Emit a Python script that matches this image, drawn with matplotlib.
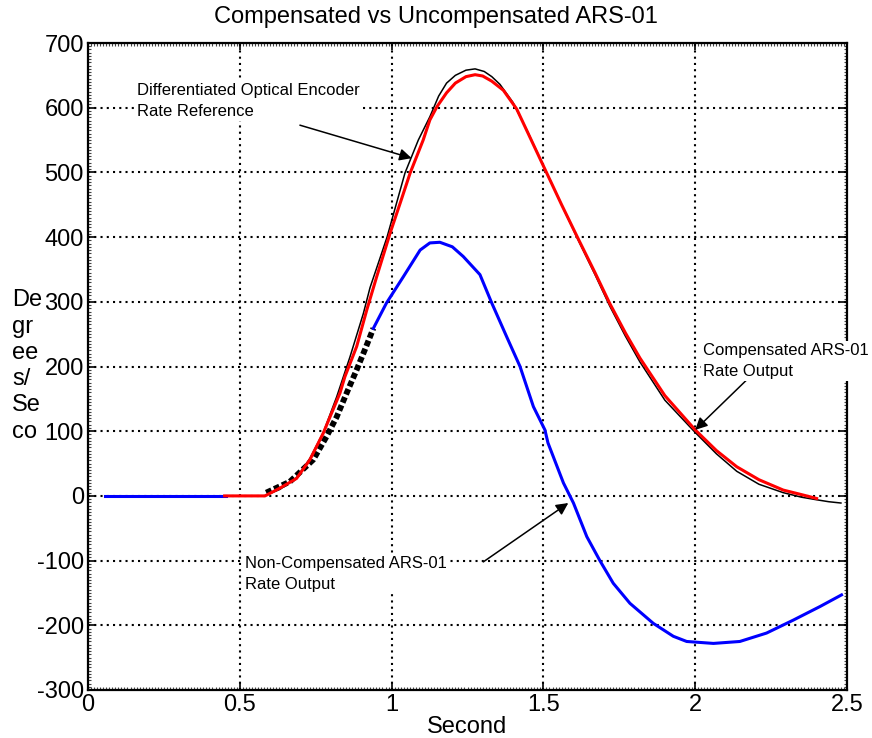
import matplotlib
matplotlib.use("Agg")
import matplotlib.pyplot as plt
from matplotlib.ticker import MultipleLocator

plt.rcParams['font.family'] = ['Liberation Sans', 'DejaVu Sans']
plt.rcParams['axes.unicode_minus'] = False

# ---- data ----
ref_x = [0.58, 0.632, 0.687, 0.731, 0.775, 0.819, 0.863, 0.907, 0.929, 0.96, 0.985,
         1.044, 1.088, 1.126, 1.155, 1.181, 1.21, 1.245, 1.275, 1.305, 1.33, 1.357,
         1.40, 1.445, 1.511, 1.56, 1.615, 1.67, 1.719, 1.77, 1.818, 1.9, 2.0, 2.07,
         2.137, 2.21, 2.29, 2.35, 2.40, 2.44, 2.48]
ref_y = [0, 10, 28, 58, 98, 153, 215, 282, 322, 365, 400,
         499, 550, 586, 618, 638, 650, 658, 660, 656, 648, 636,
         608, 566, 499, 450, 395, 342, 293, 247, 207, 148, 98, 65,
         38, 18, 5, -2, -6, -9, -11]

comp_x = [0.45, 0.583, 0.632, 0.687, 0.731, 0.775, 0.797, 0.830, 0.846, 0.885, 0.918,
          0.951, 0.978, 0.995, 1.03, 1.061, 1.104, 1.126, 1.15, 1.181, 1.21, 1.245,
          1.275, 1.30, 1.33, 1.368, 1.412, 1.45, 1.511, 1.56, 1.615, 1.67, 1.719,
          1.77, 1.818, 1.9, 2.0, 2.07, 2.137, 2.21, 2.29, 2.35, 2.40]
comp_y = [0, 0, 12, 27, 56, 97, 122, 159, 184, 231, 287,
          339, 380, 406, 455, 499, 550, 581, 602, 623, 638, 648,
          651, 649, 641, 627, 598, 560, 499, 450, 397, 345, 297,
          252, 213, 155, 102, 70, 45, 25, 9, 2, -4]

noncomp_flat_x = [0.056, 0.453]
noncomp_flat_y = [0, 0]

noncomp_mid_x = [0.587, 0.665, 0.742, 0.786, 0.819, 0.852, 0.885, 0.912, 0.94]
noncomp_mid_y = [5, 22, 56, 92, 122, 159, 195, 226, 259]

noncomp_x = [0.94, 0.983, 1.039, 1.094, 1.126, 1.159, 1.20, 1.236, 1.291, 1.33, 1.379,
             1.423, 1.467, 1.505, 1.515, 1.566, 1.599, 1.643, 1.686, 1.73, 1.785,
             1.862, 1.928, 1.972, 2.06, 2.147, 2.235, 2.323, 2.411, 2.482]
noncomp_y = [259, 298, 339, 380, 391, 392, 385, 370, 342, 298, 246,
             200, 138, 102, 82, 20, -11, -63, -100, -135, -166,
             -197, -217, -225, -228, -225, -212, -192, -171, -153]

x_ticks = [0, 0.5, 1, 1.5, 2, 2.5]
x_tick_labels = ['0', '0.5', '1', '1.5', '2', '2.5']
y_ticks = [-300, -200, -100, 0, 100, 200, 300, 400, 500, 600, 700]

# ---- figure ----
fig = plt.figure(figsize=(8.72, 7.38), dpi=100)
ax = fig.add_axes([88/872, 1-690/738, (847-88)/872, (690-43)/738])

ax.plot(ref_x, ref_y, color='black', lw=1.1, zorder=3)
ax.plot(noncomp_mid_x, noncomp_mid_y, color='black', lw=4.2,
        linestyle=(0, (1.0, 0.5)), zorder=3)
ax.plot(noncomp_flat_x, noncomp_flat_y, color='#0000ff', lw=2.2, zorder=4)
ax.plot(noncomp_x, noncomp_y, color='#0000ff', lw=2.2, zorder=4)
ax.plot(comp_x, comp_y, color='#ff0000', lw=2.2, zorder=5)

ax.set_xlim(0, 2.5)
ax.set_ylim(-300, 700)
ax.set_xticks(x_ticks)
ax.set_xticklabels(x_tick_labels)
ax.set_yticks(y_ticks)
ax.grid(True, color='black', linestyle=(0, (1, 2)), linewidth=1.5)
ax.tick_params(which='major', direction='in', length=5, width=1.2,
               labelsize=17, top=True, right=True, pad=3)
ax.xaxis.set_minor_locator(MultipleLocator(0.01))
ax.yaxis.set_minor_locator(MultipleLocator(5))
ax.tick_params(which='minor', direction='in', length=2, width=0.8,
               top=True, right=True, color='#444444')
for s in ax.spines.values():
    s.set_linewidth(1.6)

ax.set_xlabel('Second', fontsize=17, labelpad=0)
fig.text(12/872, 1-366/738, 'De\ngr\nee\ns/\nSe\nco', fontsize=17,
         ha='left', va='center', linespacing=1.25)
fig.text(0.5, 1-17/738, 'Compensated vs Uncompensated ARS-01', fontsize=17,
         ha='center', va='center')

arrow = dict(arrowstyle='-|>', color='black', lw=1.1, mutation_scale=18,
             shrinkA=0, shrinkB=0)
box = dict(facecolor='white', edgecolor='none', pad=1.5)

ax.annotate('', xy=(1.066, 522), xytext=(0.698, 573), arrowprops=arrow, zorder=6)
ax.annotate('', xy=(2.0, 102), xytext=(2.169, 179), arrowprops=arrow, zorder=6)
ax.annotate('', xy=(1.582, -11), xytext=(1.302, -102), arrowprops=arrow, zorder=6)

ax.text(0.161, 610, 'Differentiated Optical Encoder\nRate Reference', fontsize=12,
        ha='left', va='center', linespacing=1.5, bbox=box, zorder=7)
ax.text(2.026, 208, 'Compensated ARS-01\nRate Output', fontsize=12,
        ha='left', va='center', linespacing=1.5, bbox=box, zorder=7, clip_on=False)
ax.text(0.517, -120, 'Non-Compensated ARS-01\nRate Output', fontsize=12,
        ha='left', va='center', linespacing=1.5, bbox=box, zorder=7)

fig.savefig('out.png', dpi=100)
